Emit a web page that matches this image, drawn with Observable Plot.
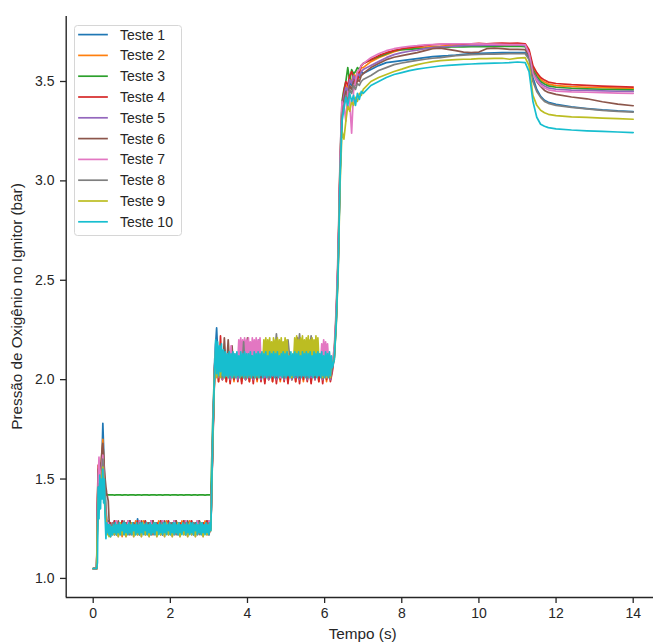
<!DOCTYPE html>
<html>
<head>
<meta charset="utf-8">
<script src="https://cdn.jsdelivr.net/npm/d3@7"></script>
<script src="https://cdn.jsdelivr.net/npm/@observablehq/plot@0.6"></script>
<style>
  html, body { margin: 0; padding: 0; background: #fff; }
  #grafico { width: 653px; height: 644px; }
</style>
</head>
<body>
<div id="grafico"></div>
<script>
// Pressão de oxigénio no ignitor ao longo de 10 ensaios (bar)

const nomes = ["Teste 1", "Teste 2", "Teste 3", "Teste 4", "Teste 5",
               "Teste 6", "Teste 7", "Teste 8", "Teste 9", "Teste 10"];
const cores = ["#1f77b4", "#ff7f0e", "#2ca02c", "#d62728", "#9467bd",
               "#8c564b", "#e377c2", "#7f7f7f", "#bcbd22", "#17becf"];

const ticksX = [0, 2, 4, 6, 8, 10, 12, 14];
const ticksY = [1.0, 1.5, 2.0, 2.5, 3.0, 3.5];

// Instantes de amostragem (s), por fase do ensaio
const tArranque = [0, 0.09, 0.11, 0.13, 0.15, 0.17, 0.19, 0.21, 0.23, 0.25,
                   0.27, 0.29, 0.31, 0.33, 0.35, 0.37, 0.39, 0.41, 0.43];
const tPatamar1 = d3.range(9, 62).map(i => i * 0.05);         // 0.45 … 3.05
const tPatamar1Denso = d3.range(18, 123).map(i => i * 0.025); // 0.45 … 3.05
const tSubida1 = [3.10];
const tPatamar2 = d3.range(63, 125).map(i => i * 0.05);       // 3.15 … 6.20
const tPatamar2Denso = d3.range(126, 249).map(i => i * 0.025); // 3.15 … 6.20
const tSubida2 = [6.25, 6.30, 6.35, 6.40, 6.45];
const tPosSubida = d3.range(130, 141).map(i => i * 0.05);     // 6.50 … 7.00
const tEstavel = d3.range(36, 57).map(i => i * 0.2);          // 7.2 … 11.2
const tQueda = [11.3, 11.4, 11.5, 11.6, 11.7, 11.8, 12.0, 12.4, 12.8, 13.2, 13.6, 14.0];

const gradePadrao = [tArranque, tPatamar1, tSubida1, tPatamar2, tSubida2, tPosSubida, tEstavel, tQueda];
const gradeP2Densa = [tArranque, tPatamar1, tSubida1, tPatamar2Denso, tSubida2, tPosSubida, tEstavel, tQueda];
const gradeDensa = [tArranque, tPatamar1Denso, tSubida1, tPatamar2Denso, tSubida2, tPosSubida, tEstavel, tQueda];

// Cada ensaio: [arranque, patamar 1, subida 1, patamar 2, subida 2, pós-subida, estável, queda]
const teste1 = [
  [1.05, 1.05, 1.30, 1.48, 1.42, 1.50, 1.45, 1.55, 1.62, 1.78, 1.66, 1.52, 1.44, 1.36, 1.30, 1.27, 1.29, 1.25, 1.28],
  [1.26, 1.22, 1.29, 1.24, 1.28, 1.22, 1.29, 1.25, 1.28, 1.23,
   1.29, 1.24, 1.28, 1.22, 1.30, 1.24, 1.28, 1.23, 1.29, 1.25,
   1.28, 1.22, 1.29, 1.24, 1.28, 1.23, 1.29, 1.22, 1.28, 1.24,
   1.29, 1.23, 1.28, 1.24, 1.29, 1.22, 1.28, 1.25, 1.29, 1.23,
   1.28, 1.24, 1.29, 1.22, 1.28, 1.24, 1.29, 1.23, 1.28, 1.24,
   1.29, 1.23, 1.27],
  [1.70],
  [2.10, 2.26, 2.04, 2.15, 2.03, 2.12, 2.02, 2.11, 2.04, 2.12,
   2.02, 2.11, 2.03, 2.12, 2.02, 2.10, 2.04, 2.12, 2.02, 2.11,
   2.03, 2.12, 2.02, 2.20, 2.04, 2.11, 2.02, 2.12, 2.03, 2.10,
   2.02, 2.12, 2.04, 2.11, 2.02, 2.12, 2.03, 2.11, 2.02, 2.12,
   2.04, 2.10, 2.02, 2.12, 2.03, 2.11, 2.02, 2.12, 2.04, 2.11,
   2.02, 2.12, 2.03, 2.10, 2.02, 2.12, 2.04, 2.11, 2.02, 2.12,
   2.03, 2.07],
  [2.11, 2.29, 2.57, 3.04, 3.34],
  [3.42, 3.47, 3.44, 3.50, 3.48, 3.52, 3.50, 3.53, 3.52, 3.55, 3.54],
  [3.56, 3.58, 3.595, 3.60, 3.605, 3.61, 3.615, 3.62, 3.625, 3.628, 3.63,
   3.633, 3.637, 3.64, 3.642, 3.643, 3.644, 3.645, 3.645, 3.646, 3.645],
  [3.62, 3.52, 3.46, 3.425, 3.405, 3.395, 3.385, 3.372, 3.364, 3.357, 3.352, 3.349]
];

const teste2 = [
  [1.05, 1.05, 1.35, 1.52, 1.46, 1.55, 1.50, 1.58, 1.64, 1.70, 1.60, 1.48, 1.40, 1.33, 1.29, 1.26, 1.28, 1.24, 1.27],
  [1.23, 1.28, 1.22, 1.29, 1.23, 1.28, 1.21, 1.28, 1.24, 1.29,
   1.22, 1.28, 1.23, 1.29, 1.22, 1.27, 1.24, 1.29, 1.22, 1.28,
   1.23, 1.29, 1.22, 1.28, 1.24, 1.29, 1.22, 1.28, 1.23, 1.29,
   1.22, 1.28, 1.24, 1.29, 1.23, 1.28, 1.22, 1.29, 1.23, 1.28,
   1.22, 1.29, 1.23, 1.28, 1.22, 1.29, 1.24, 1.28, 1.22, 1.29,
   1.23, 1.28, 1.26],
  [1.72],
  [2.05, 2.15, 1.99, 2.08, 2.00, 2.07, 1.99, 2.08, 2.01, 2.07,
   1.99, 2.08, 2.00, 2.07, 1.99, 2.06, 2.01, 2.08, 1.99, 2.07,
   2.00, 2.08, 1.99, 2.07, 2.01, 2.08, 1.99, 2.06, 2.00, 2.08,
   1.99, 2.07, 2.01, 2.08, 1.99, 2.07, 2.00, 2.08, 1.99, 2.06,
   2.01, 2.08, 1.99, 2.07, 2.00, 2.08, 1.99, 2.07, 2.01, 2.08,
   1.99, 2.06, 2.00, 2.08, 1.99, 2.07, 2.01, 2.08, 1.99, 2.07,
   2.00, 2.05],
  [2.13, 2.32, 2.60, 3.08, 3.37],
  [3.44, 3.48, 3.46, 3.52, 3.50, 3.54, 3.52, 3.55, 3.54, 3.57, 3.57],
  [3.60, 3.62, 3.635, 3.65, 3.66, 3.665, 3.67, 3.672, 3.675, 3.677, 3.68,
   3.68, 3.682, 3.68, 3.682, 3.683, 3.682, 3.684, 3.683, 3.684, 3.68],
  [3.65, 3.57, 3.535, 3.51, 3.497, 3.487, 3.479, 3.474, 3.471, 3.469, 3.467, 3.465]
];

const teste3 = [
  [1.05, 1.05, 1.28, 1.44, 1.40, 1.48, 1.45, 1.52, 1.55, 1.58, 1.52, 1.46, 1.43, 1.42, 1.42, 1.42, 1.42, 1.42, 1.42],
  [1.42, 1.421, 1.419, 1.42, 1.421, 1.42, 1.419, 1.42, 1.421, 1.419,
   1.42, 1.421, 1.42, 1.419, 1.42, 1.421, 1.419, 1.42, 1.421, 1.42,
   1.419, 1.42, 1.421, 1.42, 1.419, 1.421, 1.42, 1.419, 1.42, 1.421,
   1.42, 1.419, 1.421, 1.42, 1.42, 1.419, 1.421, 1.42, 1.419, 1.42,
   1.421, 1.42, 1.419, 1.42, 1.421, 1.419, 1.42, 1.421, 1.42, 1.419,
   1.42, 1.421, 1.42],
  [1.80],
  [2.08, 2.17, 2.02, 2.10, 2.01, 2.09, 2.02, 2.10, 2.00, 2.09,
   2.02, 2.10, 2.01, 2.09, 2.02, 2.10, 2.00, 2.09, 2.02, 2.18,
   2.01, 2.10, 2.02, 2.09, 2.00, 2.10, 2.02, 2.09, 2.01, 2.10,
   2.02, 2.09, 2.00, 2.10, 2.02, 2.09, 2.01, 2.10, 2.02, 2.09,
   2.00, 2.10, 2.02, 2.09, 2.01, 2.10, 2.02, 2.09, 2.00, 2.10,
   2.02, 2.09, 2.01, 2.10, 2.02, 2.09, 2.00, 2.10, 2.02, 2.09,
   2.01, 2.06],
  [2.14, 2.33, 2.62, 3.10, 3.40],
  [3.46, 3.50, 3.57, 3.50, 3.56, 3.54, 3.55, 3.57, 3.56, 3.58, 3.59],
  [3.61, 3.625, 3.64, 3.655, 3.66, 3.662, 3.665, 3.667, 3.67, 3.672, 3.673,
   3.675, 3.674, 3.675, 3.676, 3.675, 3.677, 3.676, 3.677, 3.678, 3.675],
  [3.645, 3.56, 3.525, 3.50, 3.487, 3.478, 3.471, 3.466, 3.463, 3.461, 3.459, 3.458]
];

const teste4 = [
  [1.05, 1.05, 1.40, 1.57, 1.50, 1.54, 1.48, 1.52, 1.56, 1.60, 1.50, 1.42, 1.36, 1.31, 1.28, 1.25, 1.27, 1.23, 1.28],
  [1.28, 1.23, 1.29, 1.22, 1.28, 1.24, 1.29, 1.23, 1.28, 1.22,
   1.29, 1.24, 1.28, 1.23, 1.29, 1.22, 1.28, 1.24, 1.29, 1.23,
   1.28, 1.22, 1.29, 1.24, 1.28, 1.23, 1.29, 1.22, 1.28, 1.24,
   1.29, 1.23, 1.28, 1.22, 1.29, 1.24, 1.28, 1.23, 1.29, 1.22,
   1.28, 1.24, 1.29, 1.23, 1.28, 1.22, 1.29, 1.24, 1.28, 1.23,
   1.29, 1.22, 1.27],
  [1.66],
  [2.05, 2.12, 1.99, 2.22, 2.00, 2.09, 1.99, 2.08, 1.98, 2.07,
   2.00, 2.08, 1.99, 2.07, 1.98, 2.08, 2.00, 2.06, 1.99, 2.08,
   1.98, 2.07, 2.00, 2.08, 1.99, 2.06, 1.98, 2.08, 2.00, 2.07,
   1.99, 2.08, 1.98, 2.07, 2.00, 2.08, 1.99, 2.06, 1.98, 2.08,
   2.00, 2.07, 1.99, 2.08, 1.98, 2.07, 2.00, 2.08, 1.99, 2.06,
   1.98, 2.08, 2.00, 2.07, 1.99, 2.08, 1.98, 2.07, 2.00, 2.08,
   1.99, 2.04],
  [2.12, 2.31, 2.60, 3.07, 3.37],
  [3.45, 3.50, 3.48, 3.53, 3.55, 3.52, 3.49, 3.50, 3.55, 3.58, 3.59],
  [3.61, 3.63, 3.645, 3.655, 3.665, 3.67, 3.675, 3.68, 3.685, 3.687, 3.688,
   3.69, 3.688, 3.69, 3.692, 3.69, 3.692, 3.693, 3.692, 3.693, 3.69],
  [3.66, 3.58, 3.545, 3.52, 3.507, 3.497, 3.49, 3.484, 3.48, 3.477, 3.474, 3.472]
];

const teste5 = [
  [1.05, 1.05, 1.32, 1.53, 1.46, 1.50, 1.44, 1.50, 1.55, 1.58, 1.50, 1.40, 1.34, 1.29, 1.27, 1.23, 1.26, 1.22, 1.27],
  [1.22, 1.27, 1.23, 1.29, 1.22, 1.28, 1.23, 1.27, 1.22, 1.29,
   1.24, 1.28, 1.22, 1.27, 1.23, 1.29, 1.22, 1.28, 1.24, 1.27,
   1.22, 1.29, 1.23, 1.28, 1.22, 1.27, 1.24, 1.29, 1.22, 1.28,
   1.23, 1.27, 1.22, 1.29, 1.24, 1.28, 1.22, 1.27, 1.23, 1.29,
   1.22, 1.28, 1.24, 1.27, 1.22, 1.29, 1.23, 1.28, 1.22, 1.27,
   1.24, 1.29, 1.25],
  [1.70],
  [2.07, 2.16, 2.01, 2.10, 2.00, 2.11, 2.02, 2.09, 2.00, 2.10,
   2.01, 2.11, 2.00, 2.09, 2.02, 2.10, 2.00, 2.11, 2.01, 2.09,
   2.00, 2.10, 2.02, 2.11, 2.00, 2.09, 2.01, 2.10, 2.00, 2.11,
   2.02, 2.09, 2.00, 2.10, 2.01, 2.11, 2.00, 2.09, 2.02, 2.10,
   2.00, 2.11, 2.01, 2.09, 2.00, 2.10, 2.02, 2.11, 2.00, 2.09,
   2.01, 2.10, 2.00, 2.11, 2.02, 2.09, 2.00, 2.10, 2.01, 2.11,
   2.00, 2.06],
  [2.12, 2.30, 2.58, 3.05, 3.35],
  [3.43, 3.47, 3.45, 3.51, 3.49, 3.53, 3.51, 3.54, 3.53, 3.55, 3.56],
  [3.58, 3.60, 3.62, 3.635, 3.645, 3.652, 3.658, 3.665, 3.67, 3.673, 3.676,
   3.678, 3.68, 3.681, 3.682, 3.683, 3.683, 3.684, 3.684, 3.685, 3.68],
  [3.64, 3.55, 3.515, 3.49, 3.477, 3.468, 3.461, 3.457, 3.455, 3.453, 3.451, 3.45]
];

const teste6 = [
  [1.05, 1.05, 1.36, 1.55, 1.48, 1.58, 1.52, 1.60, 1.65, 1.68, 1.62, 1.55, 1.50, 1.46, 1.43, 1.41, 1.39, 1.30, 1.26],
  [1.27, 1.23, 1.28, 1.22, 1.29, 1.24, 1.27, 1.22, 1.28, 1.23,
   1.29, 1.22, 1.27, 1.24, 1.28, 1.22, 1.29, 1.23, 1.27, 1.22,
   1.28, 1.24, 1.29, 1.22, 1.27, 1.23, 1.28, 1.22, 1.29, 1.24,
   1.27, 1.22, 1.28, 1.23, 1.29, 1.22, 1.27, 1.24, 1.28, 1.22,
   1.29, 1.23, 1.27, 1.22, 1.28, 1.24, 1.29, 1.22, 1.27, 1.23,
   1.28, 1.22, 1.26],
  [1.68],
  [2.06, 2.14, 2.02, 2.11, 2.03, 2.21, 2.04, 2.20, 2.02, 2.17,
   2.01, 2.12, 2.02, 2.11, 2.01, 2.12, 2.03, 2.21, 2.02, 2.11,
   2.01, 2.12, 2.02, 2.11, 2.01, 2.12, 2.03, 2.11, 2.01, 2.12,
   2.02, 2.11, 2.01, 2.12, 2.03, 2.11, 2.01, 2.12, 2.02, 2.11,
   2.01, 2.12, 2.02, 2.21, 2.01, 2.11, 2.03, 2.12, 2.01, 2.11,
   2.02, 2.12, 2.01, 2.11, 2.03, 2.12, 2.01, 2.11, 2.02, 2.12,
   2.01, 2.07],
  [2.13, 2.31, 2.59, 3.05, 3.33],
  [3.40, 3.45, 3.42, 3.48, 3.46, 3.50, 3.48, 3.51, 3.50, 3.53, 3.54],
  [3.57, 3.59, 3.61, 3.622, 3.63, 3.638, 3.645, 3.655, 3.665, 3.668, 3.662,
   3.655, 3.648, 3.645, 3.648, 3.665, 3.668, 3.665, 3.662, 3.662, 3.66],
  [3.63, 3.55, 3.50, 3.475, 3.455, 3.445, 3.435, 3.422, 3.413, 3.398, 3.386, 3.378]
];

const teste7 = [
  [1.05, 1.05, 1.34, 1.50, 1.61, 1.52, 1.48, 1.54, 1.58, 1.62, 1.55, 1.45, 1.38, 1.32, 1.29, 1.26, 1.28, 1.23, 1.27],
  [1.21, 1.28, 1.22, 1.29, 1.21, 1.27, 1.23, 1.28, 1.21, 1.29,
   1.22, 1.28, 1.21, 1.27, 1.23, 1.29, 1.21, 1.28, 1.22, 1.27,
   1.21, 1.29, 1.23, 1.28, 1.21, 1.27, 1.22, 1.29, 1.21, 1.28,
   1.23, 1.27, 1.21, 1.29, 1.22, 1.28, 1.21, 1.27, 1.23, 1.29,
   1.21, 1.28, 1.22, 1.27, 1.21, 1.29, 1.23, 1.28, 1.21, 1.27,
   1.22, 1.29, 1.25],
  [1.74],
  // patamar 2 com amostragem densa
  [2.08, 2.18, 2.03, 2.12, 2.02, 2.13, 2.04, 2.12, 2.02, 2.13,
   2.03, 2.12, 2.02, 2.13, 2.04, 2.12, 2.02, 2.17, 2.03, 2.12,
   2.02, 2.13, 2.04, 2.12, 2.10, 2.20, 2.11, 2.21, 2.09, 2.20,
   2.11, 2.21, 2.10, 2.20, 2.12, 2.21, 2.10, 2.19, 2.11, 2.21,
   2.10, 2.20, 2.12, 2.21, 2.09, 2.20, 2.11, 2.21, 2.10, 2.12,
   2.03, 2.12, 2.02, 2.13, 2.04, 2.12, 2.02, 2.11, 2.03, 2.12,
   2.02, 2.13, 2.04, 2.12, 2.02, 2.11, 2.03, 2.12, 2.01, 2.13,
   2.02, 2.12, 2.04, 2.11, 2.02, 2.12, 2.03, 2.13, 2.02, 2.12,
   2.04, 2.11, 2.02, 2.12, 2.03, 2.13, 2.02, 2.12, 2.04, 2.11,
   2.02, 2.12, 2.03, 2.13, 2.02, 2.12, 2.04, 2.11, 2.02, 2.12,
   2.03, 2.13, 2.02, 2.12, 2.04, 2.11, 2.02, 2.12, 2.03, 2.13,
   2.10, 2.18, 2.11, 2.20, 2.10, 2.19, 2.11, 2.18, 2.10, 2.13,
   2.04, 2.11, 2.09],
  [2.16, 2.36, 2.66, 3.12, 3.40],
  [3.38, 3.30, 3.45, 3.40, 3.24, 3.45, 3.50, 3.55, 3.56, 3.58, 3.59],
  [3.62, 3.64, 3.655, 3.665, 3.672, 3.677, 3.68, 3.684, 3.686, 3.688, 3.689,
   3.69, 3.69, 3.69, 3.689, 3.688, 3.688, 3.687, 3.686, 3.686, 3.685],
  [3.64, 3.54, 3.505, 3.48, 3.467, 3.458, 3.452, 3.448, 3.446, 3.444, 3.442, 3.44]
];

const teste8 = [
  [1.05, 1.05, 1.30, 1.46, 1.42, 1.48, 1.44, 1.50, 1.56, 1.60, 1.52, 1.44, 1.37, 1.31, 1.28, 1.25, 1.27, 1.22, 1.26],
  [1.24, 1.28, 1.22, 1.27, 1.23, 1.28, 1.22, 1.29, 1.24, 1.27,
   1.22, 1.28, 1.23, 1.27, 1.22, 1.28, 1.24, 1.27, 1.22, 1.28,
   1.23, 1.27, 1.22, 1.28, 1.24, 1.27, 1.22, 1.28, 1.23, 1.27,
   1.22, 1.28, 1.24, 1.27, 1.22, 1.28, 1.23, 1.27, 1.22, 1.28,
   1.24, 1.27, 1.22, 1.28, 1.23, 1.27, 1.22, 1.28, 1.24, 1.27,
   1.22, 1.28, 1.25],
  [1.69],
  [2.07, 2.15, 2.02, 2.11, 2.01, 2.12, 2.03, 2.10, 2.02, 2.11,
   2.01, 2.12, 2.03, 2.10, 2.02, 2.19, 2.01, 2.11, 2.03, 2.12,
   2.02, 2.10, 2.01, 2.12, 2.03, 2.11, 2.02, 2.10, 2.01, 2.12,
   2.03, 2.11, 2.23, 2.10, 2.02, 2.12, 2.01, 2.11, 2.20, 2.10,
   2.02, 2.12, 2.03, 2.11, 2.23, 2.10, 2.02, 2.12, 2.01, 2.11,
   2.22, 2.10, 2.02, 2.12, 2.03, 2.11, 2.01, 2.10, 2.02, 2.12,
   2.03, 2.07],
  [2.11, 2.29, 2.57, 3.04, 3.33],
  [3.38, 3.43, 3.40, 3.46, 3.44, 3.48, 3.46, 3.49, 3.48, 3.50, 3.51],
  [3.53, 3.555, 3.57, 3.585, 3.593, 3.60, 3.606, 3.612, 3.617, 3.62, 3.625,
   3.63, 3.633, 3.635, 3.636, 3.638, 3.638, 3.639, 3.64, 3.64, 3.64],
  [3.61, 3.50, 3.45, 3.42, 3.40, 3.39, 3.38, 3.37, 3.362, 3.355, 3.35, 3.346]
];

const teste9 = [
  [1.05, 1.05, 1.26, 1.40, 1.36, 1.44, 1.40, 1.46, 1.52, 1.56, 1.50, 1.40, 1.34, 1.29, 1.26, 1.22, 1.25, 1.21, 1.26],
  [1.21, 1.26, 1.22, 1.27, 1.21, 1.28, 1.22, 1.26, 1.21, 1.27,
   1.23, 1.28, 1.21, 1.26, 1.22, 1.27, 1.21, 1.28, 1.22, 1.26,
   1.21, 1.27, 1.23, 1.28, 1.21, 1.26, 1.22, 1.27, 1.21, 1.28,
   1.22, 1.26, 1.21, 1.27, 1.23, 1.28, 1.21, 1.26, 1.22, 1.27,
   1.21, 1.28, 1.22, 1.26, 1.21, 1.27, 1.23, 1.28, 1.21, 1.26,
   1.22, 1.27, 1.24],
  [1.71],
  // patamar 2 com amostragem densa
  [2.05, 2.14, 2.01, 2.10, 2.02, 2.11, 2.01, 2.10, 2.03, 2.11,
   2.01, 2.10, 2.02, 2.11, 2.01, 2.10, 2.03, 2.11, 2.01, 2.10,
   2.02, 2.11, 2.01, 2.10, 2.03, 2.11, 2.01, 2.10, 2.02, 2.11,
   2.01, 2.10, 2.03, 2.11, 2.01, 2.10, 2.02, 2.11, 2.01, 2.10,
   2.03, 2.11, 2.01, 2.10, 2.02, 2.11, 2.01, 2.10, 2.03, 2.11,
   2.10, 2.20, 2.11, 2.21, 2.09, 2.20, 2.12, 2.21, 2.10, 2.19,
   2.11, 2.21, 2.10, 2.20, 2.12, 2.21, 2.09, 2.20, 2.11, 2.21,
   2.10, 2.19, 2.12, 2.21, 2.10, 2.20, 2.11, 2.12, 2.02, 2.11,
   2.01, 2.10, 2.11, 2.21, 2.10, 2.22, 2.12, 2.20, 2.10, 2.21,
   2.11, 2.22, 2.10, 2.20, 2.12, 2.21, 2.09, 2.22, 2.11, 2.20,
   2.10, 2.21, 2.12, 2.20, 2.11, 2.22, 2.10, 2.21, 2.11, 2.12,
   2.02, 2.11, 2.01, 2.10, 2.03, 2.11, 2.01, 2.10, 2.02, 2.11,
   2.01, 2.10, 2.07],
  [2.10, 2.27, 2.53, 2.98, 3.25],
  [3.21, 3.30, 3.38, 3.35, 3.40, 3.38, 3.42, 3.40, 3.44, 3.43, 3.46],
  [3.50, 3.52, 3.535, 3.55, 3.562, 3.575, 3.585, 3.593, 3.60, 3.605, 3.608,
   3.61, 3.612, 3.613, 3.615, 3.615, 3.616, 3.617, 3.612, 3.618, 3.62],
  [3.58, 3.43, 3.38, 3.355, 3.343, 3.335, 3.328, 3.322, 3.319, 3.316, 3.313, 3.31]
];

const teste10 = [
  [1.05, 1.05, 1.08, 1.46, 1.30, 1.52, 1.35, 1.50, 1.40, 1.55, 1.38, 1.50, 1.30, 1.20, 1.28, 1.23, 1.27, 1.22, 1.27],
  // patamar 1 com amostragem densa
  [1.21, 1.26, 1.22, 1.27, 1.23, 1.28, 1.22, 1.27, 1.23, 1.28,
   1.22, 1.27, 1.24, 1.28, 1.22, 1.28, 1.23, 1.27, 1.22, 1.28,
   1.23, 1.27, 1.22, 1.28, 1.24, 1.27, 1.22, 1.28, 1.23, 1.27,
   1.22, 1.28, 1.23, 1.28, 1.22, 1.27, 1.24, 1.28, 1.22, 1.27,
   1.23, 1.28, 1.22, 1.27, 1.23, 1.28, 1.22, 1.28, 1.24, 1.27,
   1.22, 1.28, 1.23, 1.27, 1.22, 1.28, 1.23, 1.28, 1.22, 1.27,
   1.24, 1.28, 1.22, 1.27, 1.23, 1.28, 1.22, 1.28, 1.23, 1.27,
   1.22, 1.28, 1.23, 1.27, 1.22, 1.28, 1.24, 1.27, 1.22, 1.28,
   1.23, 1.27, 1.22, 1.28, 1.23, 1.28, 1.22, 1.27, 1.24, 1.28,
   1.22, 1.27, 1.23, 1.28, 1.22, 1.28, 1.23, 1.27, 1.22, 1.28,
   1.23, 1.27, 1.22, 1.28, 1.24],
  [1.73],
  // patamar 2 com amostragem densa
  [2.06, 2.20, 2.03, 2.19, 2.02, 2.17, 2.04, 2.18, 2.02, 2.15,
   2.01, 2.14, 2.02, 2.13, 2.01, 2.14, 2.02, 2.13, 2.01, 2.14,
   2.02, 2.13, 2.01, 2.14, 2.02, 2.12, 2.01, 2.14, 2.02, 2.13,
   2.01, 2.14, 2.02, 2.13, 2.01, 2.13, 2.02, 2.14, 2.01, 2.12,
   2.02, 2.14, 2.01, 2.13, 2.02, 2.14, 2.01, 2.13, 2.02, 2.14,
   2.01, 2.13, 2.02, 2.14, 2.01, 2.12, 2.02, 2.14, 2.01, 2.13,
   2.02, 2.14, 2.01, 2.13, 2.02, 2.14, 2.01, 2.12, 2.02, 2.13,
   2.01, 2.14, 2.02, 2.13, 2.01, 2.14, 2.02, 2.12, 2.01, 2.14,
   2.02, 2.13, 2.01, 2.14, 2.02, 2.13, 2.01, 2.14, 2.02, 2.12,
   2.01, 2.14, 2.02, 2.13, 2.01, 2.14, 2.02, 2.13, 2.01, 2.14,
   2.02, 2.12, 2.01, 2.14, 2.02, 2.13, 2.01, 2.14, 2.02, 2.13,
   2.01, 2.14, 2.02, 2.12, 2.01, 2.14, 2.02, 2.13, 2.01, 2.14,
   2.02, 2.12, 2.06],
  [2.10, 2.28, 2.55, 3.01, 3.30],
  [3.36, 3.42, 3.38, 3.44, 3.40, 3.43, 3.38, 3.44, 3.41, 3.45, 3.44],
  [3.48, 3.50, 3.52, 3.535, 3.545, 3.555, 3.562, 3.568, 3.573, 3.578, 3.581,
   3.584, 3.586, 3.588, 3.59, 3.591, 3.592, 3.593, 3.595, 3.598, 3.595],
  [3.55, 3.40, 3.32, 3.285, 3.275, 3.268, 3.262, 3.256, 3.252, 3.249, 3.246, 3.243]
];

const ensaios = [teste1, teste2, teste3, teste4, teste5, teste6, teste7, teste8, teste9, teste10];
const grades = [gradePadrao, gradePadrao, gradePadrao, gradePadrao, gradePadrao,
                gradePadrao, gradeP2Densa, gradePadrao, gradeP2Densa, gradeDensa];

// Tabela longa: um registo por amostra, na ordem dos ensaios (Teste 10 fica por cima)
const pontos = ensaios.flatMap((fases, k) =>
  fases.flatMap((valores, f) => {
    const tempos = grades[k][f];
    return valores.slice(0, tempos.length).map((v, i) => ({serie: nomes[k], t: tempos[i], v}));
  })
);

const xDominio = [-0.7, 14.7];
const yDominio = [0.904, 3.827];
const tinta = "#262626";

const svg = Plot.plot({
  width: 653,
  height: 644,
  marginLeft: 66,
  marginRight: 0,
  marginTop: 16,
  marginBottom: 47,
  x: {domain: xDominio, range: [65.7, 659.7], label: null},
  y: {domain: yDominio, label: null},
  color: {domain: nomes, range: cores},
  style: {
    fontFamily: "'Liberation Sans', Arial, sans-serif",
    fontSize: "14px",
    color: tinta,
    background: "#ffffff",
    overflow: "hidden"
  },
  marks: [
    Plot.line(pontos, {x: "t", y: "v", z: "serie", stroke: "serie", strokeWidth: 1.7, curve: "linear"}),
    Plot.ruleX([xDominio[0]], {y1: yDominio[0], y2: yDominio[1], stroke: tinta, strokeWidth: 1.4}),
    Plot.ruleY([yDominio[0]], {x1: xDominio[0], x2: xDominio[1], stroke: tinta, strokeWidth: 1.4}),
    Plot.axisX({ticks: ticksX, tickSize: 6, tickPadding: 5, strokeWidth: 1.3, label: null, tickFormat: d => String(d)}),
    Plot.axisY({ticks: ticksY, tickSize: 6, tickPadding: 6, strokeWidth: 1.3, label: null, tickFormat: d3.format(".1f")})
  ]
});

const raiz = d3.select(svg);

// Títulos dos eixos
raiz.append("text")
  .attr("x", 362.7).attr("y", 638.5)
  .attr("text-anchor", "middle")
  .attr("font-size", 15.3)
  .attr("fill", tinta)
  .text("Tempo (s)");

raiz.append("text")
  .attr("transform", "translate(22,306.5) rotate(-90)")
  .attr("text-anchor", "middle")
  .attr("font-size", 15.3)
  .attr("fill", tinta)
  .text("Pressão de Oxigênio no Ignitor (bar)");

// Legenda no canto superior esquerdo
const legenda = raiz.append("g").attr("text-anchor", "start");
legenda.append("rect")
  .attr("x", 74.5).attr("y", 25.5)
  .attr("width", 107).attr("height", 210)
  .attr("rx", 3)
  .attr("fill", "#ffffff").attr("fill-opacity", 0.8)
  .attr("stroke", "#d6d6d6").attr("stroke-width", 1);

nomes.forEach((nome, i) => {
  const y = 34.6 + i * 20.8;
  legenda.append("line")
    .attr("x1", 79).attr("x2", 107)
    .attr("y1", y).attr("y2", y)
    .attr("stroke", cores[i]).attr("stroke-width", 1.7)
    .attr("stroke-linecap", "square");
  legenda.append("text")
    .attr("x", 120).attr("y", y + 5)
    .attr("text-anchor", "start")
    .attr("font-size", 14)
    .attr("fill", tinta)
    .text(nome);
});

document.getElementById("grafico").appendChild(svg);
</script>
</body>
</html>
